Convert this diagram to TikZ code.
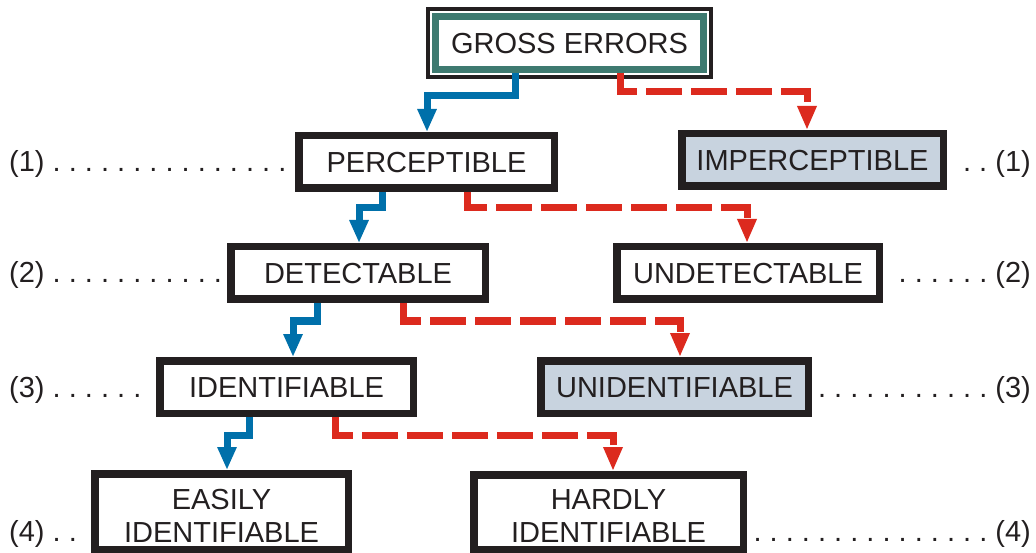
\documentclass[tikz,border=0pt]{standalone}
\usepackage{fontspec}
\setmainfont{Liberation Sans}
\usetikzlibrary{arrows.meta}
\definecolor{bd}{HTML}{231F20}
\definecolor{tealb}{HTML}{3E7A70}
\definecolor{bl}{HTML}{0070AA}
\definecolor{rd}{HTML}{DC2A1E}
\definecolor{gfill}{HTML}{C8D3DF}
\begin{document}
\begin{tikzpicture}[x=1pt,y=-1pt,
  font=\fontsize{29}{33}\selectfont\frenchspacing, text=bd,
  box/.style={draw=bd, line width=7.5pt, inner sep=0pt, text height=21pt, text depth=0pt, minimum height=52.5pt},
  boxtwo/.style={draw=bd, line width=7.5pt, inner sep=0pt, align=center, text height=61pt, text depth=0pt},
  lab/.style={inner sep=0pt},
  yes/.style={draw=bl, line width=7pt, -{Triangle[length=23pt,width=18pt]}},
  no/.style={draw=rd, line width=7pt, dash pattern=on 36pt off 9pt, -{Triangle[length=24pt,width=18pt]}}]
\useasboundingbox (0,0) rectangle (1036,553);

% top node
\node[draw=tealb, line width=7pt, inner sep=0pt, text height=21pt, text depth=0pt,
      minimum width=268pt, minimum height=53pt] (G) at (569.5,43) {GROSS ERRORS};
\draw[bd, line width=3.5pt] ([shift={(-4,-4)}]G.north west) rectangle ([shift={(4,4)}]G.south east);

% level 1
\node[box, minimum width=255.5pt] (P) at (426.5,162) {PERCEPTIBLE};
\node[box, fill=gfill, minimum width=261.5pt] (IMP) at (812.5,160) {IMPERCEPTIBLE};
% level 2
\node[box, minimum width=254.5pt] (D) at (358,273) {DETECTABLE};
\node[box, minimum width=262.5pt] (UD) at (748,273) {UNDETECTABLE};
% level 3
\node[box, minimum width=253.5pt] (I) at (286.5,387) {IDENTIFIABLE};
\node[box, fill=gfill, minimum width=267.5pt] (UI) at (674.5,387) {UNIDENTIFIABLE};
% level 4
\node[boxtwo, minimum width=253.5pt, minimum height=75.5pt] (E) at (221.5,511.5) {EASILY\\IDENTIFIABLE};
\node[boxtwo, minimum width=269.5pt, minimum height=74.5pt] (H) at (608.5,512) {HARDLY\\IDENTIFIABLE};

% connectors
\draw[yes] (G.south -| 515,0) |- (427,96) -- (P.north -| 427,0);
\draw[no]  (G.south -| 620,0) |- (807,92) -- (IMP.north -| 807,0);
\draw[yes] (P.south -| 382,0) |- (359,208) -- (D.north -| 359,0);
\draw[no]  (P.south -| 467,0) |- (747,208) -- (UD.north -| 747,0);
\draw[yes] (D.south -| 317,0) |- (293,321) -- (I.north -| 293,0);
\draw[no]  (D.south -| 403,0) |- (680,321) -- (UI.north -| 680,0);
\draw[yes] (I.south -| 249,0) |- (227,435) -- (E.north -| 227,0);
\draw[no]  (I.south -| 335,0) |- (613,435) -- (H.north -| 613,0);

% level labels
\node[lab, anchor=base west] (L1) at (9,172) {(1) . . . . . . . . . . . . . . .};
\node[lab, anchor=base west] (L2) at (9,283) {(2) . . . . . . . . . . .};
\node[lab, anchor=base west] (L3) at (9,397) {(3) . . . . . .};
\node[lab, anchor=base west] (L4) at (9,541) {(4) . .};
\node[lab, anchor=base east] (R1) at (1031,172) {. . (1)};
\node[lab, anchor=base east] (R2) at (1031,283) {. . . . . . (2)};
\node[lab, anchor=base east] (R3) at (1031,397) {. . . . . . . . . . . (3)};
\node[lab, anchor=base east] (R4) at (1031,541) {. . . . . . . . . . . . . . . (4)};
\end{tikzpicture}
\end{document}
